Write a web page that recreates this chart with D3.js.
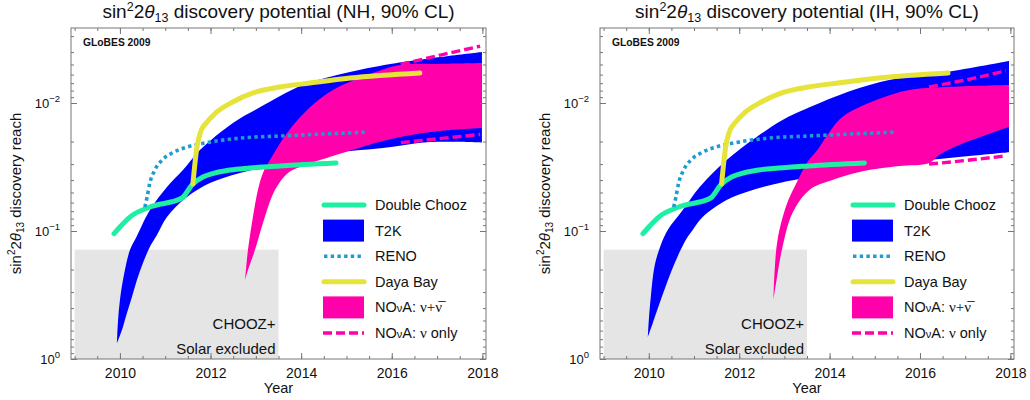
<!DOCTYPE html>
<html>
<head>
<meta charset="utf-8">
<script src="https://cdn.jsdelivr.net/npm/d3@7"></script>
<style>
  body { margin: 0; background: #fff; }
  svg { display: block; }
  text { font-family: "Liberation Sans", Arial, Helvetica, sans-serif; fill: #111; }
</style>
</head>
<body>
<svg id="chart" width="1030" height="400"></svg>
<script>
// ---- axis ticks ----
const xTickYears = [2010, 2012, 2014, 2016, 2018];
const xMinorYears = d3.range(2009, 2018.01, 0.5);
const yTickValues = [1, 0.1, 0.01];
const yTickExponents = ["0", "\u22121", "\u22122"];
const yMinorValues = [2,3,4,5,6,7,8,9].map(k => k * 0.1)
  .concat([2,3,4,5,6,7,8,9].map(k => k * 0.01))
  .concat([3,4,5,6,7,8,9].map(k => k * 0.001));

// ---- reactor experiments (same in both hierarchies): [year, sin^2 2theta13 reach] ----
const doubleChooz = [[2009.87,0.105],[2010.0,0.093],[2010.22,0.0778],[2010.66,0.065],[2011.37,0.0552],
  [2011.59,0.0437],[2011.83,0.0379],[2012.43,0.0334],[2012.87,0.0322],[2013.53,0.031],[2014.77,0.0294]];
const reno = [[2010.55,0.065],[2010.60,0.0543],[2010.66,0.0422],[2010.77,0.0334],[2010.93,0.0279],
  [2011.15,0.0246],[2011.48,0.0221],[2011.77,0.0209],[2012.65,0.0188],[2013.53,0.0181],[2015.45,0.0169]];
const dayaBay = [[2011.61,0.0429],[2011.70,0.0221],[2011.77,0.0172],[2011.92,0.0141],[2012.14,0.01175],
  [2012.49,0.00982],[2012.94,0.00835],[2013.53,0.0075],[2014.19,0.00698],[2015.08,0.00638],[2016.62,0.00583]];

// ---- normal hierarchy ----
const t2kNHUpper = [[2009.934,0.750],[2009.956,0.514],[2010.0,0.346],[2010.088,0.221],[2010.221,0.141],
  [2010.375,0.1094],[2010.662,0.0686],[2011.038,0.0453],[2011.391,0.0334],[2011.766,0.0233],[2012.494,0.0143],
  [2013.09,0.0108],[2014.04,0.00723],[2015.077,0.00573],[2016.115,0.00487],[2017.99,0.0040]];
const t2kNHLower = [[2009.934,0.750],[2010.044,0.593],[2010.155,0.437],[2010.265,0.328],[2010.375,0.2415],
  [2010.508,0.178],[2010.662,0.133],[2010.817,0.1075],[2011.038,0.0777],[2011.479,0.0543],[2011.987,0.0422],
  [2012.649,0.0352],[2013.753,0.0289],[2014.702,0.0246],[2015.806,0.0225],[2016.843,0.0202],[2017.99,0.0204]];
const novaNHUpper = [[2012.759,0.2415],[2012.781,0.2017],[2012.826,0.141],[2012.914,0.0866],[2013.046,0.0478],
  [2013.157,0.0352],[2013.311,0.0279],[2013.687,0.0172],[2014.194,0.0108],[2014.702,0.00792],[2015.298,0.00638],
  [2016.181,0.00505],[2017.064,0.00495],[2017.99,0.00487]];
const novaNHLower = [[2012.759,0.2415],[2012.826,0.2017],[2012.98,0.141],[2013.157,0.0866],[2013.422,0.0478],
  [2013.709,0.0352],[2013.974,0.0316],[2014.415,0.0279],[2014.967,0.0242],[2015.806,0.0198],[2016.556,0.01747],
  [2017.285,0.01626],[2017.99,0.01567]];
const novaNuOnlyNHUpper = [[2016.2,0.0050],[2017.1,0.0042],[2017.95,0.0036]];
const novaNuOnlyNHLower = [[2016.2,0.0204],[2017.1,0.0189],[2017.95,0.0176]];

// ---- inverted hierarchy ----
const t2kIHUpper = [[2009.978,0.673],[2010.0,0.496],[2010.044,0.328],[2010.132,0.1845],[2010.265,0.1286],
  [2010.419,0.0982],[2010.751,0.0686],[2011.126,0.0453],[2011.722,0.0279],[2012.384,0.01844],[2012.958,0.01358],
  [2013.554,0.0108],[2014.658,0.00764],[2015.541,0.00638],[2016.578,0.00573],[2017.969,0.00470]];
const t2kIHLower = [[2009.978,0.673],[2010.088,0.523],[2010.287,0.328],[2010.574,0.178],[2010.817,0.1175],
  [2010.971,0.0982],[2011.192,0.0777],[2011.722,0.0573],[2012.230,0.0487],[2012.892,0.0422],[2013.554,0.0379],
  [2014.371,0.0334],[2015.386,0.0300],[2016.203,0.0279],[2017.086,0.0259],[2017.969,0.0242]];
const novaIHUpper = [[2012.759,0.340],[2012.781,0.213],[2012.848,0.1175],[2013.046,0.0626],[2013.267,0.0422],
  [2013.510,0.0289],[2013.731,0.0233],[2013.951,0.01778],[2014.283,0.01286],[2015.033,0.00948],[2015.762,0.00792],
  [2016.578,0.0075],[2017.969,0.00723]];
const novaIHLower = [[2012.759,0.340],[2012.826,0.2415],[2012.958,0.1334],[2013.179,0.0723],[2013.554,0.0478],
  [2014.062,0.0400],[2014.658,0.0346],[2015.541,0.0311],[2016.203,0.0294],[2016.424,0.0255],[2016.865,0.0213],
  [2017.969,0.0154]];
const novaNuOnlyIHUpper = [[2016.2,0.0075],[2017.1,0.0065],[2017.9,0.0056]];
const novaNuOnlyIHLower = [[2016.2,0.0300],[2017.1,0.0279],[2017.9,0.0259]];

// excluded region (CHOOZ + solar)
const choozYears = [2009.0, 2013.5];
const choozLimit = 0.14;

const legendLabels = ["Double Chooz", "T2K", "RENO", "Daya Bay", "NOvA: nu+nubar", "NOvA: nu only"];

// ---- styling ----
const colors = {
  doubleChooz: "#1fefa2",
  t2k: "#0000ff",
  reno: "#1e9bcf",
  dayaBay: "#e6e33a",
  nova: "#ff00aa",
  excluded: "#e5e5e5",
  frame: "#777"
};

const svg = d3.select("#chart");
const plotTop = 28, plotBottom = 359;
const xDomain = [2008.92, 2018.08];
const yDomain = [1, 0.002594];

const panels = [
  { hier: "NH", left: 71, right: 486, t2k: [t2kNHUpper, t2kNHLower], nova: [novaNHUpper, novaNHLower],
    nuOnly: [novaNuOnlyNHUpper, novaNuOnlyNHLower] },
  { hier: "IH", left: 600, right: 1014, t2k: [t2kIHUpper, t2kIHLower], nova: [novaIHUpper, novaIHLower],
    nuOnly: [novaNuOnlyIHUpper, novaNuOnlyIHLower] }
];

// text made of runs with sub/superscripts
function richText(sel, parts) {
  parts.forEach(p => {
    const ts = sel.append("tspan").text(p.t);
    if (p.size) ts.attr("font-size", p.size);
    if (p.dy) ts.attr("dy", p.dy);
    if (p.italic) ts.attr("font-style", "italic");
    if (p.family) ts.style("font-family", p.family);
  });
  return sel;
}

function sinLabel(main, small, up, down, tail) {
  return [
    { t: "sin" },
    { t: "2", size: small, dy: -up },
    { t: "2", size: main, dy: up },
    { t: "\u03B8", italic: true },
    { t: "13", size: small, dy: down },
    { t: tail, size: main, dy: -down }
  ];
}

panels.forEach((p, pi) => {
  const x = d3.scaleLinear().domain(xDomain).range([p.left, p.right]);
  const y = d3.scaleLog().domain(yDomain).range([plotBottom, plotTop]);
  const g = svg.append("g");

  const clipId = "clip" + pi;
  svg.append("clipPath").attr("id", clipId).append("rect")
    .attr("x", p.left).attr("y", plotTop)
    .attr("width", p.right - p.left).attr("height", plotBottom - plotTop);
  const plot = g.append("g").attr("clip-path", `url(#${clipId})`);

  // excluded region
  plot.append("rect")
    .attr("x", x(choozYears[0])).attr("width", x(choozYears[1]) - x(choozYears[0]))
    .attr("y", y(choozLimit)).attr("height", y(1) - y(choozLimit))
    .attr("fill", colors.excluded);

  const edge = d3.line().x(d => x(d[0])).y(d => y(d[1])).curve(d3.curveCatmullRom.alpha(0.5));
  const band = (upper, lower) => edge(upper) + "L" + edge(lower.slice().reverse()).slice(1) + "Z";
  const curve = d3.line().x(d => x(d[0])).y(d => y(d[1])).curve(d3.curveMonotoneX);

  plot.append("path").attr("d", band(p.t2k[0], p.t2k[1])).attr("fill", colors.t2k);
  plot.append("path").attr("d", band(p.nova[0], p.nova[1])).attr("fill", colors.nova);

  p.nuOnly.forEach(arr => {
    plot.append("path").attr("d", curve(arr)).attr("fill", "none")
      .attr("stroke", colors.nova).attr("stroke-width", 3.4).attr("stroke-dasharray", "9 4");
  });

  plot.append("path").attr("d", curve(doubleChooz)).attr("fill", "none")
    .attr("stroke", colors.doubleChooz).attr("stroke-width", 5).attr("stroke-linecap", "round")
    .attr("stroke-linejoin", "round");
  plot.append("path").attr("d", curve(reno)).attr("fill", "none")
    .attr("stroke", colors.reno).attr("stroke-width", 3.6).attr("stroke-dasharray", "3.4 3.3");
  plot.append("path").attr("d", curve(dayaBay)).attr("fill", "none")
    .attr("stroke", colors.dayaBay).attr("stroke-width", 5).attr("stroke-linecap", "round")
    .attr("stroke-linejoin", "round");

  // excluded region text
  const exX = x(choozYears[1]) - 3;
  g.append("text").attr("x", exX).attr("y", 329).attr("text-anchor", "end")
    .attr("font-size", 15).text("CHOOZ+");
  g.append("text").attr("x", exX).attr("y", 354).attr("text-anchor", "end")
    .attr("font-size", 15).text("Solar excluded");

  // credit
  g.append("text").attr("x", p.left + 12).attr("y", 46).attr("font-size", 10.3)
    .attr("font-weight", "bold").attr("fill", "#222").text("GLoBES 2009");

  // frame
  g.append("rect").attr("x", p.left).attr("y", plotTop)
    .attr("width", p.right - p.left).attr("height", plotBottom - plotTop)
    .attr("fill", "none").attr("stroke", colors.frame).attr("stroke-width", 1);

  const styleAxis = a => {
    a.select(".domain").remove();
    a.selectAll(".tick line").attr("stroke", colors.frame);
  };

  // x axes (bottom labelled, top mirrored)
  g.append("g").attr("transform", `translate(0,${plotBottom})`)
    .call(d3.axisBottom(x).tickValues(xMinorYears).tickSize(-3).tickFormat("")).call(styleAxis);
  g.append("g").attr("transform", `translate(0,${plotTop})`)
    .call(d3.axisTop(x).tickValues(xMinorYears).tickSize(-3).tickFormat("")).call(styleAxis);
  g.append("g").attr("transform", `translate(0,${plotTop})`)
    .call(d3.axisTop(x).tickValues(xTickYears).tickSize(-6).tickFormat("")).call(styleAxis);
  const xAx = g.append("g").attr("transform", `translate(0,${plotBottom})`)
    .call(d3.axisBottom(x).tickValues(xTickYears).tickSize(-6).tickPadding(9).tickFormat(d3.format("d")))
    .call(styleAxis);
  xAx.selectAll(".tick text").attr("font-size", 14).attr("fill", "#111")
    .style("font-family", "'Liberation Sans', Arial, sans-serif");

  // y axes (left labelled, right mirrored)
  g.append("g").attr("transform", `translate(${p.left},0)`)
    .call(d3.axisLeft(y).tickValues(yMinorValues).tickSize(-3).tickFormat("")).call(styleAxis);
  g.append("g").attr("transform", `translate(${p.right},0)`)
    .call(d3.axisRight(y).tickValues(yMinorValues).tickSize(-3).tickFormat("")).call(styleAxis);
  g.append("g").attr("transform", `translate(${p.right},0)`)
    .call(d3.axisRight(y).tickValues(yTickValues).tickSize(-6).tickFormat("")).call(styleAxis);
  const yAx = g.append("g").attr("transform", `translate(${p.left},0)`)
    .call(d3.axisLeft(y).tickValues(yTickValues).tickSize(-6).tickPadding(11).tickFormat(() => ""))
    .call(styleAxis);
  yAx.selectAll(".tick text").each(function (d, i) {
    const t = d3.select(this).attr("font-size", 13).attr("fill", "#111")
      .style("font-family", "'Liberation Sans', Arial, sans-serif");
    t.append("tspan").text("10");
    t.append("tspan").attr("dy", -6).attr("font-size", 9.5).text(yTickExponents[yTickValues.indexOf(d)]);
  });

  // axis titles
  const cx = (p.left + p.right) / 2;
  g.append("text").attr("x", cx).attr("y", 393).attr("text-anchor", "middle")
    .attr("font-size", 14.5).text("Year");
  const yl = g.append("text").attr("text-anchor", "middle").attr("font-size", 15)
    .attr("transform", `translate(${p.left - 50},${(plotTop + plotBottom) / 2}) rotate(-90)`);
  richText(yl, sinLabel(15, 10, 6, 3, " discovery reach"));

  const title = g.append("text").attr("x", cx).attr("y", 18).attr("text-anchor", "middle")
    .attr("font-size", 19);
  richText(title, sinLabel(19, 12.5, 7, 4, ` discovery potential (${p.hier}, 90% CL)`));

  // legend
  const lx0 = p.left + 251, lx1 = p.left + 295, tx = p.left + 304;
  const rowY = i => 205 + i * 25.6;
  const leg = g.append("g");
  leg.append("line").attr("x1", lx0 + 2).attr("x2", lx1 - 2).attr("y1", rowY(0)).attr("y2", rowY(0))
    .attr("stroke", colors.doubleChooz).attr("stroke-width", 5).attr("stroke-linecap", "round");
  leg.append("rect").attr("x", lx0 + 1).attr("width", 41).attr("y", rowY(1) - 11).attr("height", 22)
    .attr("fill", colors.t2k);
  leg.append("line").attr("x1", lx0 + 2).attr("x2", lx1 - 2).attr("y1", rowY(2)).attr("y2", rowY(2))
    .attr("stroke", colors.reno).attr("stroke-width", 3.6).attr("stroke-dasharray", "3.4 3.3");
  leg.append("line").attr("x1", lx0 + 2).attr("x2", lx1 - 2).attr("y1", rowY(3)).attr("y2", rowY(3))
    .attr("stroke", colors.dayaBay).attr("stroke-width", 5).attr("stroke-linecap", "round");
  leg.append("rect").attr("x", lx0 + 1).attr("width", 41).attr("y", rowY(4) - 11).attr("height", 22)
    .attr("fill", colors.nova);
  leg.append("line").attr("x1", lx0 + 1).attr("x2", lx1 - 2).attr("y1", rowY(5)).attr("y2", rowY(5))
    .attr("stroke", colors.nova).attr("stroke-width", 3.4).attr("stroke-dasharray", "9 4");

  const serif = "'Liberation Serif', 'DejaVu Serif', serif";
  const novaName = [{ t: "NO" }, { t: "\u03BD", size: 11 }, { t: "A: ", size: 14.5 }];
  const legendRuns = [
    [{ t: legendLabels[0] }],
    [{ t: legendLabels[1] }],
    [{ t: legendLabels[2] }],
    [{ t: legendLabels[3] }],
    novaName.concat([{ t: "\u03BD+\u03BD\u0305", family: serif, size: 15 }]),
    novaName.concat([{ t: "\u03BD", family: serif, size: 15 }, { t: " only", size: 14.5 }])
  ];
  legendRuns.forEach((runs, i) => {
    const t = leg.append("text").attr("x", tx).attr("y", rowY(i) + 5).attr("font-size", 14.5);
    richText(t, runs);
  });
});
</script>
</body>
</html>
